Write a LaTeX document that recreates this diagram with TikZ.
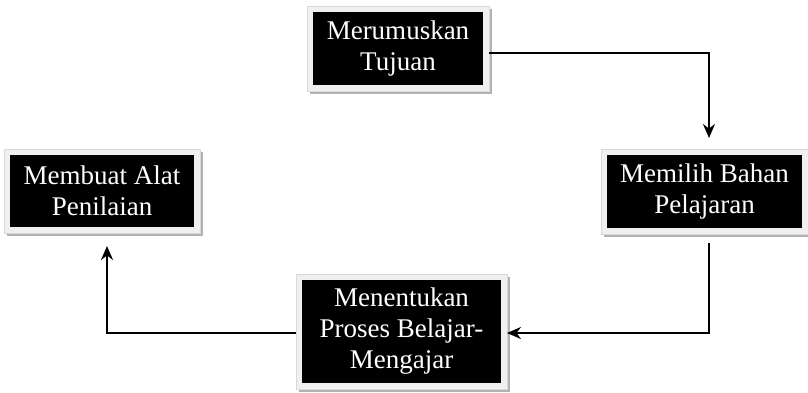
\documentclass[tikz,border=0pt]{standalone}
\usepackage{fontspec}
\setmainfont{Liberation Serif}
\usetikzlibrary{arrows.meta,fit,backgrounds,calc}
\tikzset{
  blk/.style={fill=black, text=white, align=center, inner sep=0pt, outer sep=0pt,
    font=\fontsize{27}{31}\selectfont},
  frm/.style={fill=black!6, draw=black!15, line width=0.8pt, inner sep=6pt, outer sep=0pt},
  shd/.style={fill=black!30},
  conn/.style={line width=2.2pt, -{Stealth[length=14pt,width=12pt]}}
}
\begin{document}
\begin{tikzpicture}[x=1pt,y=-1pt]
\useasboundingbox (0,0) rectangle (808,392);
\node[blk, minimum width=170pt, minimum height=73pt] (b1) at (398,48.5) {Merumuskan\\Tujuan};
\node[blk, minimum width=195pt, minimum height=73pt] (b2) at (704.5,191.5) {Memilih Bahan\\Pelajaran};
\node[blk, minimum width=184pt, minimum height=72pt] (b3) at (102,191) {Membuat Alat\\Penilaian};
\node[blk, minimum width=199pt, minimum height=103pt] (b4) at (401.5,331.5) {Menentukan\\Proses Belajar-\\Mengajar};
\begin{scope}[on background layer]
  \foreach \i in {1,2,3,4}{
    \node[frm, draw=none, fill=none, fit=(b\i)] (f\i) {};
    \fill[shd] ($(f\i.south west)+(3,3)$) rectangle ($(f\i.north east)+(3,3)$);
    \node[frm, fit=(b\i)] {};
  }
\end{scope}
\coordinate (t1) at (709,53);
\coordinate (t2) at (709,333);
\coordinate (t3) at (107,333);
\draw[conn, shorten >=11pt] (f1.east |- t1) -- (t1) -- (f2.north -| t1);
\draw[conn, shorten <=9pt] (f2.south -| t2) -- (t2) -- (f4.east |- t2);
\draw[conn] (f4.west |- t3) -- (t3) -- ($(f3.south -| t3)+(0,13)$);
\end{tikzpicture}
\end{document}
